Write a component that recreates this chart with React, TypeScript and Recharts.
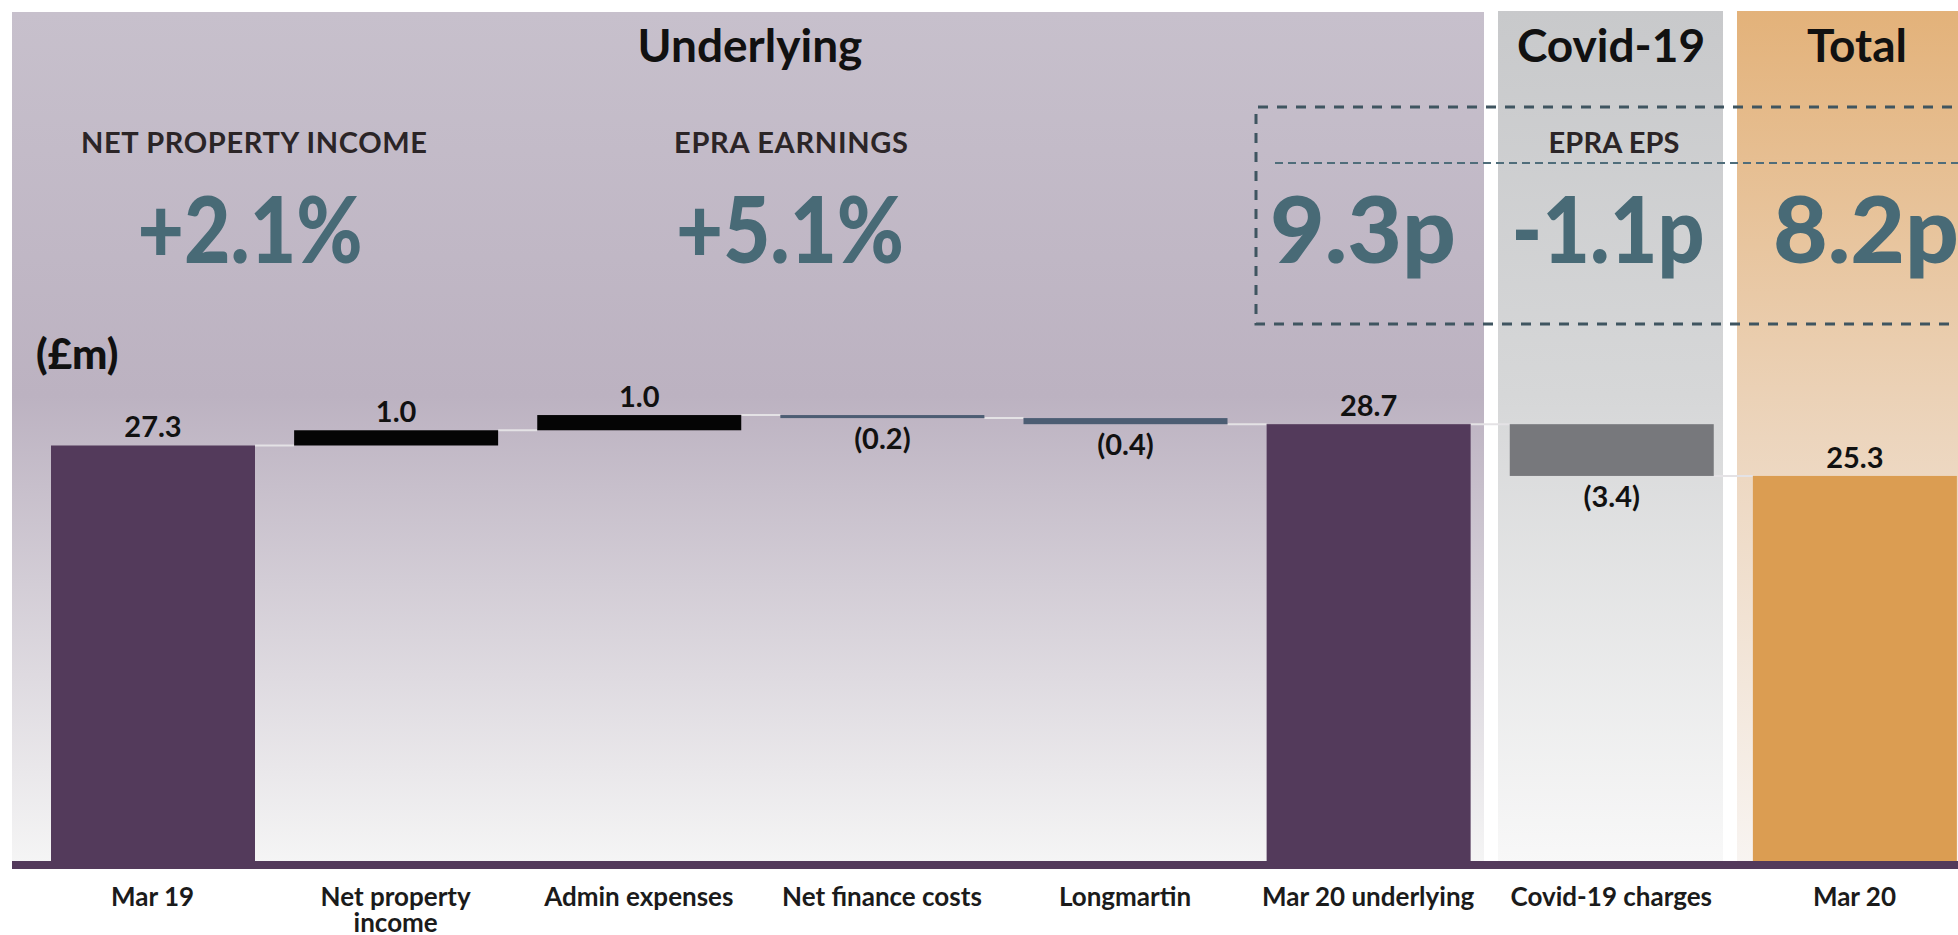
import React from 'react';
import { BarChart, Bar, XAxis, YAxis } from 'recharts';

// waterfall steps, £m
const categories = [
  'Mar 19',
  'Net property\nincome',
  'Admin expenses',
  'Net finance costs',
  'Longmartin',
  'Mar 20 underlying',
  'Covid-19 charges',
  'Mar 20',
];
const amounts = [27.3, 1.0, 1.0, -0.2, -0.4, 28.7, -3.4, 25.3];
const isTotal = [true, false, false, false, false, true, false, true];

const panelTitles = ['Underlying', 'Covid-19', 'Total'];
const kpiLabels = ['NET PROPERTY INCOME', 'EPRA EARNINGS', 'EPRA EPS'];
const kpiGrowth = ['+2.1%', '+5.1%'];
const epsValues = ['9.3p', '-1.1p', '8.2p'];
const unitLabel = '(£m)';

const barColors = ['#533A5B', '#050505', '#050505', '#4C5D73', '#4C5D73', '#533A5B', '#77787C', '#DB9D52'];

let running = 0;
const data = categories.map((name, i) => {
  const v = amounts[i];
  let low: number;
  let high: number;
  if (isTotal[i]) {
    low = 0;
    high = v;
    running = v;
  } else {
    low = Math.min(running, running + v);
    high = Math.max(running, running + v);
    running += v;
  }
  return { name, range: [low, high], amount: v };
});

const W = 1958;
const H = 935;
const BAR = 204;
const GAP = 39.1;
const FONT = 'Lato, "Open Sans", sans-serif';

const fmt = (v: number) => (v < 0 ? `(${Math.abs(v).toFixed(1)})` : v.toFixed(1));

const WaterfallBar = (props: any) => {
  const { x, y, width, height, index } = props;
  const top = Math.min(y, y + height);
  const bottom = Math.max(y, y + height);
  const amount = amounts[index];
  const neg = amount < 0;
  const level = neg ? bottom : top;
  return (
    <g>
      {index < data.length - 1 && (
        <line x1={x + width} x2={x + width + GAP} y1={level} y2={level} stroke="#E4E2E5" strokeWidth={2} />
      )}
      <rect x={x} y={top} width={width} height={Math.max(bottom - top, 1)} fill={barColors[index]} />
      <text
        x={x + width / 2}
        y={neg ? bottom + 31 : top - 8}
        textAnchor="middle"
        fontFamily={FONT}
        fontWeight={700}
        fontSize={29}
        fill="#111"
      >
        {fmt(amount)}
      </text>
    </g>
  );
};

const CategoryTick = ({ x, y, payload }: any) => {
  const lines = String(payload.value).split('\n');
  return (
    <text x={x} y={y} textAnchor="middle" fontFamily={FONT} fontWeight={700} fontSize={26} fill="#1B1B1B">
      {lines.map((l, i) => (
        <tspan key={i} x={x} dy={i === 0 ? 33 : 26}>
          {l}
        </tspan>
      ))}
    </text>
  );
};

const Backdrop = () => (
  <svg width={W} height={H} style={{ position: 'absolute', left: 0, top: 0 }}>
    <defs>
      <linearGradient id="gUnder" x1="0" y1="0" x2="0" y2="1">
        <stop offset="0" stopColor="#C7C0CC" />
        <stop offset="0.45" stopColor="#BCB2C1" />
        <stop offset="1" stopColor="#F5F5F5" />
      </linearGradient>
      <linearGradient id="gCovid" x1="0" y1="0" x2="0" y2="1">
        <stop offset="0" stopColor="#C8C9CB" />
        <stop offset="0.45" stopColor="#D6D7D8" />
        <stop offset="1" stopColor="#F8F8F8" />
      </linearGradient>
      <linearGradient id="gTotal" x1="0" y1="0" x2="0" y2="1">
        <stop offset="0" stopColor="#E3B27A" />
        <stop offset="0.5" stopColor="#ECD5BD" />
        <stop offset="1" stopColor="#F8F4F1" />
      </linearGradient>
    </defs>
    <rect x={12} y={12} width={1472} height={852} fill="url(#gUnder)" />
    <rect x={1498} y={11} width={225} height={853} fill="url(#gCovid)" />
    <rect x={1737} y={11} width={225} height={853} fill="url(#gTotal)" />

    <g fontFamily={FONT} fontWeight={700} fill="#111" fontSize={46} textAnchor="middle">
      <text x={750} y={62}>{panelTitles[0]}</text>
      <text x={1611} y={62}>{panelTitles[1]}</text>
      <text x={1857} y={62}>{panelTitles[2]}</text>
    </g>

    <g fontFamily={FONT} fontWeight={700} fill="#2B2527" fontSize={29} textAnchor="middle">
      <text x={254} y={153} textLength={346}>{kpiLabels[0]}</text>
      <text x={791} y={153} textLength={234}>{kpiLabels[1]}</text>
      <text x={1614} y={153} textLength={131}>{kpiLabels[2]}</text>
    </g>

    <g fontFamily={FONT} fontWeight={900} fill="#486A76" fontSize={92} textAnchor="middle">
      <text x={250} y={263} textLength={225} lengthAdjust="spacingAndGlyphs">{kpiGrowth[0]}</text>
      <text x={790} y={263} textLength={228} lengthAdjust="spacingAndGlyphs">{kpiGrowth[1]}</text>
      <text x={1363} y={263} textLength={186} lengthAdjust="spacingAndGlyphs">{epsValues[0]}</text>
      <text x={1608} y={263} textLength={193} lengthAdjust="spacingAndGlyphs">{epsValues[1]}</text>
      <text x={1866} y={263} textLength={186} lengthAdjust="spacingAndGlyphs">{epsValues[2]}</text>
    </g>

    <path d="M1990 107 H1256 V324 H1990" fill="none" stroke="#3F5560" strokeWidth={3} strokeDasharray="10 9" />
    <line x1={1275} x2={1990} y1={163} y2={163} stroke="#4F6D7A" strokeWidth={2} strokeDasharray="8 5" />

    <text x={36} y={369} fontFamily={FONT} fontWeight={900} fontSize={42} fill="#111">
      {unitLabel}
    </text>
  </svg>
);

export default function App() {
  return (
    <div style={{ position: 'absolute', left: 0, top: 0, width: W, height: H, overflow: 'hidden', background: '#fff' }}>
      <Backdrop />
      <div style={{ position: 'absolute', left: 0, top: 0 }}>
        <BarChart width={1976} height={H} data={data} margin={{ top: 100, right: 0, bottom: 0, left: 12 }} barSize={BAR}>
          <XAxis
            dataKey="name"
            height={70}
            interval={0}
            padding={{ left: 19, right: 0 }}
            axisLine={{ stroke: '#533A5B', strokeWidth: 8 }}
            tickLine={false}
            tick={<CategoryTick />}
          />
          <YAxis hide type="number" domain={[-0.263, 50]} allowDataOverflow />
          <Bar dataKey="range" shape={<WaterfallBar />} isAnimationActive={false} />
        </BarChart>
      </div>
    </div>
  );
}
